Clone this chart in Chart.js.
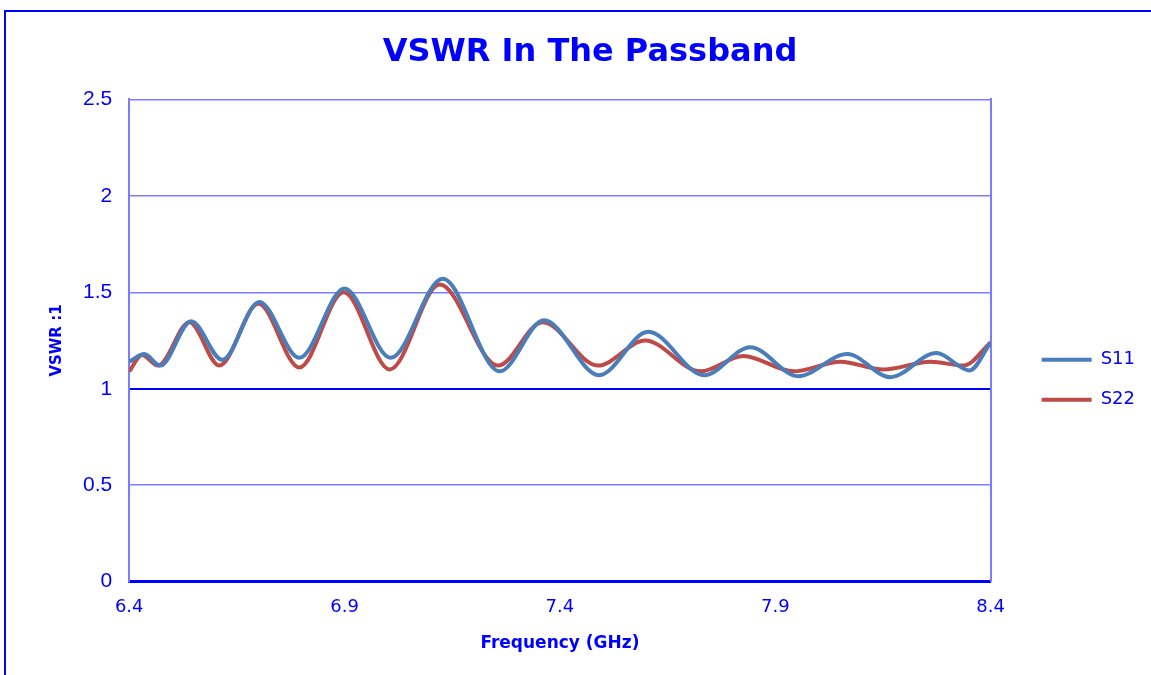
<!DOCTYPE html>
<html lang="en">
<head>
    <meta charset="UTF-8">
    <title>VSWR In The Passband</title>
    <script src="https://cdn.jsdelivr.net/npm/chart.js"></script>
    <style>
        html, body { margin: 0; padding: 0; background: #fff; }
        #wrap { position: relative; width: 1151px; height: 675px; overflow: hidden; }
        #frame {
            position: absolute; left: 4px; top: 10px; width: 1200px; height: 700px;
            border-top: 2px solid #0000ff; border-left: 2px solid #0000ff;
            pointer-events: none;
        }
    </style>
</head>
<body>
    <div id="wrap">
        <canvas id="vswrChart" width="1151" height="675"></canvas>
        <div id="frame"></div>
    </div>

    <script>
        // frequency (GHz) and VSWR
        const freqS11 = [6.400, 6.435, 6.472, 6.544, 6.616, 6.702, 6.795, 6.900, 7.007, 7.128, 7.260,
                         7.363, 7.491, 7.605, 7.735, 7.842, 7.953, 8.067, 8.167, 8.274, 8.351, 8.400];
        const vswrS11 = [1.14, 1.18, 1.12, 1.35, 1.15, 1.45, 1.16, 1.52, 1.16, 1.57, 1.09,
                         1.355, 1.07, 1.295, 1.07, 1.215, 1.065, 1.18, 1.06, 1.185, 1.095, 1.24];

        const freqS22 = [6.400, 6.430, 6.467, 6.540, 6.609, 6.700, 6.795, 6.898, 7.005, 7.121, 7.256,
                         7.360, 7.488, 7.598, 7.726, 7.826, 7.942, 8.051, 8.151, 8.260, 8.337, 8.400];
        const vswrS22 = [1.09, 1.175, 1.12, 1.345, 1.12, 1.44, 1.11, 1.50, 1.10, 1.54, 1.12,
                         1.345, 1.12, 1.25, 1.09, 1.17, 1.09, 1.14, 1.10, 1.14, 1.12, 1.24];

        const seriesNames = ["S11", "S22"];
        const xTicks = [6.4, 6.9, 7.4, 7.9, 8.4];
        const yTicks = [0, 0.5, 1, 1.5, 2, 2.5];

        const blue = "#0000ff";
        const gridBlue = "#7c7cff";

        const toPoints = (xs, ys) => xs.map((x, i) => ({ x: x, y: ys[i] }));

        const ctx = document.getElementById("vswrChart").getContext("2d");
        new Chart(ctx, {
            type: "line",
            data: {
                datasets: [
                    {
                        label: seriesNames[0],
                        data: toPoints(freqS11, vswrS11),
                        borderColor: "#4a7ebb",
                        backgroundColor: "#4a7ebb",
                        borderWidth: 4,
                        pointRadius: 0,
                        fill: false,
                        cubicInterpolationMode: "monotone"
                    },
                    {
                        label: seriesNames[1],
                        data: toPoints(freqS22, vswrS22),
                        borderColor: "#be4b48",
                        backgroundColor: "#be4b48",
                        borderWidth: 4,
                        pointRadius: 0,
                        fill: false,
                        cubicInterpolationMode: "monotone"
                    }
                ]
            },
            options: {
                responsive: false,
                animation: false,
                layout: { padding: { top: 16, left: 35, right: 6, bottom: 21 } },
                plugins: {
                    title: {
                        display: true,
                        text: "VSWR In The Passband",
                        color: blue,
                        font: { family: "DejaVu Sans", size: 32, weight: "bold" },
                        padding: { top: 17, bottom: 28 }
                    },
                    legend: {
                        position: "right",
                        title: { display: true, text: "", padding: { top: 74, bottom: 0 }, font: { size: 13 } },
                        labels: {
                            color: blue,
                            font: { family: "DejaVu Sans", size: 18 },
                            boxWidth: 50,
                            boxHeight: 4,
                            padding: 22,
                            generateLabels(chart) {
                                return chart.data.datasets.map((ds, i) => ({
                                    text: ds.label,
                                    fillStyle: ds.borderColor,
                                    strokeStyle: ds.borderColor,
                                    lineWidth: 0,
                                    fontColor: blue,
                                    datasetIndex: i
                                }));
                            }
                        }
                    },
                    tooltip: { enabled: false }
                },
                scales: {
                    x: {
                        type: "linear",
                        min: xTicks[0],
                        max: xTicks[xTicks.length - 1],
                        ticks: {
                            stepSize: xTicks[1] - xTicks[0],
                            color: blue,
                            font: { family: "DejaVu Sans", size: 18, lineHeight: 1.0 },
                            padding: 17,
                            maxRotation: 0,
                            callback: v => Number(v).toFixed(1)
                        },
                        grid: { display: false, drawTicks: false },
                        border: { color: blue, width: 3 },
                        title: {
                            display: true,
                            text: "Frequency (GHz)",
                            color: blue,
                            font: { family: "DejaVu Sans", size: 17, weight: "bold" },
                            padding: { top: 0, bottom: 0 }
                        }
                    },
                    y: {
                        min: yTicks[0],
                        max: yTicks[yTicks.length - 1],
                        ticks: {
                            stepSize: yTicks[1] - yTicks[0],
                            color: blue,
                            font: { family: "Liberation Sans", size: 21 },
                            padding: 17,
                            callback: v => String(Number(v.toFixed(1)))
                        },
                        grid: {
                            drawTicks: false,
                            color: c => (c.tick && c.tick.value === 1 ? blue : gridBlue),
                            lineWidth: c => (c.tick && c.tick.value === 1 ? 2 : 1.5)
                        },
                        border: { color: gridBlue, width: 2 },
                        title: {
                            display: true,
                            text: "VSWR :1",
                            color: blue,
                            font: { family: "DejaVu Sans", size: 15, weight: "bold" },
                            padding: { top: 13, bottom: 0 }
                        }
                    },
                    y2: {
                        position: "right",
                        min: yTicks[0],
                        max: yTicks[yTicks.length - 1],
                        ticks: { display: false },
                        grid: { drawOnChartArea: false, drawTicks: false },
                        border: { color: gridBlue, width: 2 },
                        afterFit(scale) { scale.width = 29; }
                    }
                }
            }
        });
    </script>
</body>
</html>
